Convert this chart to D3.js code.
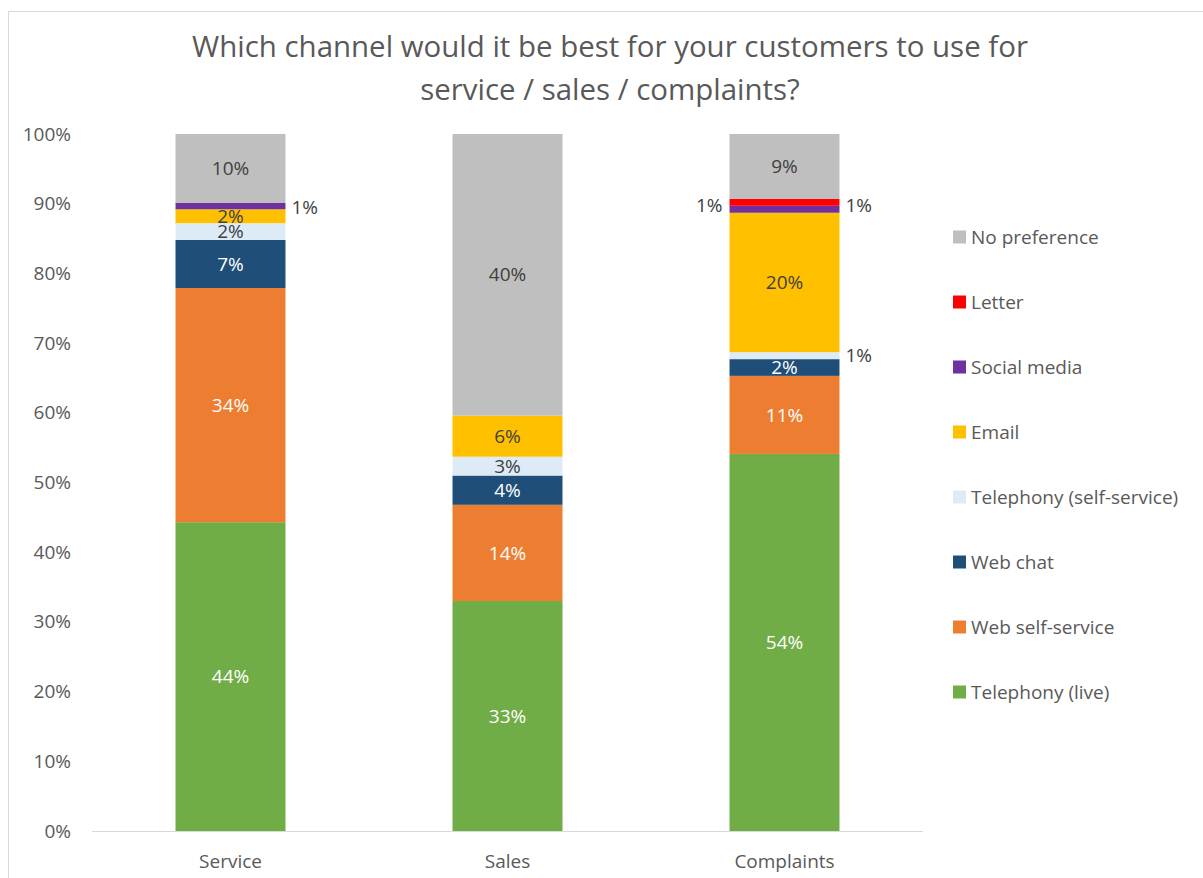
<!DOCTYPE html>
<html>
<head>
<meta charset="utf-8">
<script src="https://cdn.jsdelivr.net/npm/d3@7"></script>
<style>
  html, body { margin: 0; padding: 0; background: #fff; }
  svg { display: block; }
  text { font-family: "Open Sans", "Liberation Sans", sans-serif; }
</style>
</head>
<body>
<svg id="chart" width="1203" height="878"></svg>
<script>
// ---- data ----
const categories = ["Service", "Sales", "Complaints"];
const seriesNames = ["Telephony (live)", "Web self-service", "Web chat", "Telephony (self-service)", "Email", "Social media", "Letter", "No preference"];
const telephonyLive = [44.3, 33.0, 54.1];
const webSelfService = [33.6, 13.8, 11.2];
const webChat = [6.9, 4.2, 2.4];
const telephonySelfService = [2.4, 2.7, 1.0];
const email = [2.0, 5.9, 20.0];
const socialMedia = [0.9, 0, 1.0];
const letter = [0, 0, 1.0];
const noPreference = [9.9, 40.4, 9.3];
const yTickLabels = ["0%", "10%", "20%", "30%", "40%", "50%", "60%", "70%", "80%", "90%", "100%"];
const titleLines = ["Which channel would it be best for your customers to use for", "service / sales / complaints?"];

const seriesValues = [telephonyLive, webSelfService, webChat, telephonySelfService, email, socialMedia, letter, noPreference];
const colors = ["#70AD47", "#ED7D31", "#1F4E79", "#DDEBF7", "#FFC000", "#7030A0", "#FF0000", "#BFBFBF"];
const labelColors = ["#ffffff", "#ffffff", "#ffffff", "#404040", "#404040", "#404040", "#404040", "#404040"];
// labels drawn outside the bar: key "series|category" -> side and small vertical nudge
const outsideLabels = {
  "Social media|Service": { side: "right", dy: 1 },
  "Letter|Complaints": { side: "left", dy: 3 },
  "Social media|Complaints": { side: "right", dy: -4 },
  "Telephony (self-service)|Complaints": { side: "right", dy: 0 }
};

const rows = categories.map((c, i) => {
  const r = { category: c };
  seriesNames.forEach((s, j) => r[s] = seriesValues[j][i]);
  return r;
});
const stacked = d3.stack().keys(seriesNames)(rows);

const svg = d3.select("#chart");
const textColor = "#595959";

// chart border
svg.append("rect").attr("x", 8.5).attr("y", 11.5).attr("width", 1210).attr("height", 880)
  .attr("fill", "none").attr("stroke", "#d9d9d9").attr("stroke-width", 1);

const plot = { left: 92, right: 923, top: 134, bottom: 831 };
const x = d3.scaleBand().domain(categories).range([plot.left, plot.right]).paddingInner(0.603).paddingOuter(0.3015);
const y = d3.scaleLinear().domain([0, 100]).range([plot.bottom, plot.top]);

// title
const title = svg.append("text").attr("text-anchor", "middle").attr("fill", textColor)
  .style("font-size", "29px");
title.selectAll("tspan").data(titleLines).join("tspan")
  .attr("x", 610).attr("y", (d, i) => 57 + i * 43).text(d => d);

(function fit() {
  const t = title.select("tspan").node();
  const w = t.getComputedTextLength();
  const fs = 29 * 836 / w;
  title.style("font-size", fs + "px");
})();

const smallSize = 19;

// bars
const g = svg.append("g");
const layer = g.selectAll("g.layer").data(stacked).join("g").attr("class", "layer")
  .attr("fill", (d, i) => colors[i]);
layer.selectAll("rect").data(d => d.map(p => ({ p, key: d.key }))).join("rect")
  .attr("x", d => x(d.p.data.category))
  .attr("width", x.bandwidth())
  .attr("y", d => y(d.p[1]))
  .attr("height", d => y(d.p[0]) - y(d.p[1]));

// x axis line
svg.append("line").attr("x1", plot.left).attr("x2", plot.right).attr("y1", plot.bottom + 0.5).attr("y2", plot.bottom + 0.5)
  .attr("stroke", "#d9d9d9").attr("stroke-width", 1);

// y axis labels
const yAxis = d3.axisLeft(y).tickValues(d3.range(0, 101, 10)).tickFormat((d, i) => yTickLabels[i]).tickSize(0).tickPadding(0);
const ya = svg.append("g").attr("transform", "translate(71,0)").call(yAxis);
ya.select(".domain").remove();
ya.selectAll("text").attr("fill", textColor).style("font-size", smallSize + "px").style("font-family", '"Open Sans", sans-serif');

// x axis labels
const xAxis = d3.axisBottom(x).tickSize(0).tickPadding(0);
const xa = svg.append("g").attr("transform", `translate(0,${plot.bottom})`).call(xAxis);
xa.select(".domain").remove();
xa.selectAll("text").attr("fill", textColor).attr("dy", null).attr("y", 37).style("font-size", smallSize + "px").style("font-family", '"Open Sans", sans-serif');

// data labels
stacked.forEach((s, si) => {
  s.forEach(p => {
    const v = p[1] - p[0];
    if (v <= 0) return;
    const cat = p.data.category;
    const key = s.key + "|" + cat;
    const out = outsideLabels[key];
    let cy = (y(p[0]) + y(p[1])) / 2;
    let tx, anchor, fill;
    if (out && out.side === "right") { tx = x(cat) + x.bandwidth() + 6; anchor = "start"; fill = "#404040"; cy += out.dy; }
    else if (out && out.side === "left") { tx = x(cat) - 7; anchor = "end"; fill = "#404040"; cy += out.dy; }
    else { tx = x(cat) + x.bandwidth() / 2; anchor = "middle"; fill = labelColors[si]; }
    svg.append("text").attr("x", tx).attr("y", cy).attr("dy", "0.35em")
      .attr("text-anchor", anchor).attr("fill", fill)
      .style("font-size", smallSize + "px")
      .text(Math.round(v) + "%");
  });
});

// legend
const legendItems = seriesNames.map((s, i) => ({ s, c: colors[i] })).reverse();
const lg = svg.append("g");
const li = lg.selectAll("g").data(legendItems).join("g")
  .attr("transform", (d, i) => `translate(953,${237 + i * 65})`);
li.append("rect").attr("x", 0).attr("y", -6.5).attr("width", 13).attr("height", 13).attr("fill", d => d.c);
li.append("text").attr("x", 18).attr("dy", "0.35em").attr("fill", textColor)
  .style("font-size", smallSize + "px").text(d => d.s);
</script>
</body>
</html>
